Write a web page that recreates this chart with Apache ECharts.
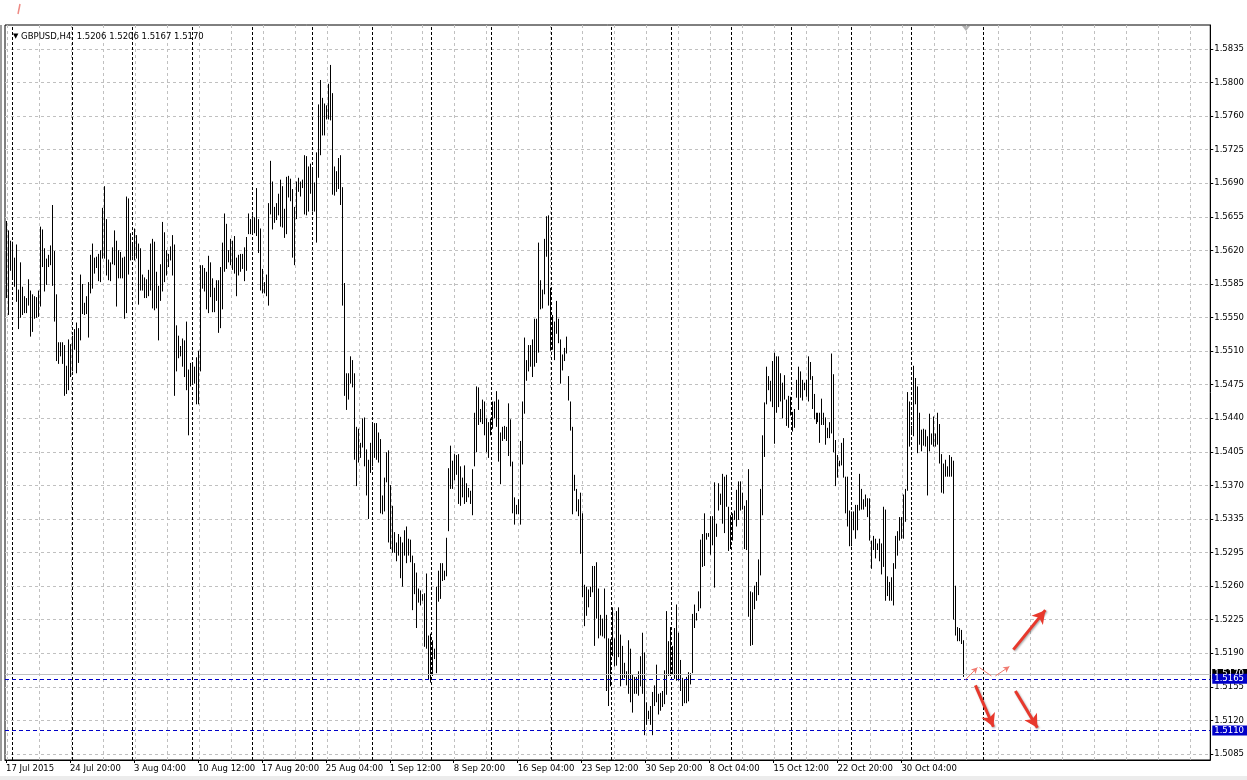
<!DOCTYPE html>
<html>
<head>
<meta charset="utf-8">
<title>GBPUSD,H4</title>
<script src="https://cdn.jsdelivr.net/npm/echarts@6/dist/echarts.min.js"></script>
<style>
  html, body { margin: 0; padding: 0; background: #fff; }
  #chart { width: 1247px; height: 780px; }
</style>
</head>
<body>
<div id="chart"></div>
<script>
// header of the MT4 window
const headerText = 'GBPUSD,H4  1.5206 1.5206 1.5167 1.5170';

// H4 bars, 17 Jul 2015 12:00 .. 6 Nov 2015 08:00 (high / low)
const highs = [
  1.5652,1.5642,1.5631,1.5630,1.5613,1.5627,1.5579,1.5608,1.5582,1.5572,
  1.5570,1.5590,1.5578,1.5574,1.5572,1.5571,1.5578,1.5646,1.5643,1.5623,
  1.5612,1.5616,1.5626,1.5669,1.5620,1.5574,1.5523,1.5523,1.5523,1.5520,
  1.5498,1.5526,1.5521,1.5530,1.5537,1.5544,1.5538,1.5595,1.5585,1.5565,
  1.5572,1.5587,1.5616,1.5628,1.5613,1.5614,1.5617,1.5621,1.5666,1.5689,
  1.5654,1.5611,1.5608,1.5624,1.5642,1.5631,1.5621,1.5619,1.5613,1.5614,
  1.5678,1.5676,1.5639,1.5628,1.5644,1.5637,1.5628,1.5623,1.5595,1.5592,
  1.5590,1.5600,1.5628,1.5633,1.5630,1.5598,1.5583,1.5606,1.5651,1.5640,
  1.5621,1.5617,1.5625,1.5637,1.5627,1.5541,1.5530,1.5519,1.5527,1.5525,
  1.5545,1.5494,1.5501,1.5499,1.5497,1.5507,1.5514,1.5605,1.5605,1.5602,
  1.5598,1.5615,1.5608,1.5591,1.5581,1.5589,1.5589,1.5603,1.5629,1.5660,
  1.5649,1.5621,1.5633,1.5631,1.5636,1.5613,1.5616,1.5617,1.5617,1.5624,
  1.5635,1.5660,1.5654,1.5658,1.5656,1.5687,1.5654,1.5644,1.5601,1.5587,
  1.5595,1.5671,1.5716,1.5694,1.5667,1.5671,1.5681,1.5696,1.5689,1.5665,
  1.5699,1.5700,1.5697,1.5686,1.5667,1.5694,1.5698,1.5694,1.5696,1.5722,
  1.5721,1.5710,1.5713,1.5708,1.5693,1.5725,1.5776,1.5802,1.5783,1.5777,
  1.5775,1.5798,1.5818,1.5788,1.5710,1.5705,1.5719,1.5722,1.5688,1.5586,
  1.5490,1.5490,1.5508,1.5504,1.5490,1.5433,1.5431,1.5416,1.5442,1.5443,
  1.5409,1.5398,1.5416,1.5435,1.5437,1.5437,1.5427,1.5420,1.5360,1.5379,
  1.5406,1.5408,1.5371,1.5349,1.5321,1.5310,1.5319,1.5316,1.5310,1.5323,
  1.5327,1.5314,1.5313,1.5296,1.5288,1.5278,1.5261,1.5259,1.5255,1.5256,
  1.5277,1.5211,1.5213,1.5206,1.5197,1.5263,1.5280,1.5288,1.5288,1.5280,
  1.5315,1.5389,1.5413,1.5397,1.5404,1.5403,1.5404,1.5391,1.5379,1.5392,
  1.5373,1.5368,1.5365,1.5388,1.5448,1.5476,1.5475,1.5452,1.5462,1.5460,
  1.5442,1.5438,1.5442,1.5460,1.5460,1.5471,1.5462,1.5427,1.5433,1.5434,
  1.5433,1.5458,1.5441,1.5396,1.5358,1.5350,1.5356,1.5418,1.5460,1.5528,
  1.5504,1.5520,1.5520,1.5526,1.5548,1.5548,1.5629,1.5589,1.5579,1.5633,
  1.5657,1.5658,1.5581,1.5552,1.5545,1.5567,1.5548,1.5526,1.5510,1.5517,
  1.5529,1.5487,1.5460,1.5433,1.5382,1.5367,1.5356,1.5363,1.5341,1.5265,
  1.5263,1.5260,1.5263,1.5285,1.5285,1.5289,1.5261,1.5233,1.5229,1.5261,
  1.5233,1.5208,1.5207,1.5241,1.5208,1.5237,1.5241,1.5212,1.5200,1.5182,
  1.5173,1.5206,1.5197,1.5169,1.5167,1.5167,1.5173,1.5189,1.5214,1.5193,
  1.5140,1.5131,1.5136,1.5151,1.5158,1.5180,1.5149,1.5150,1.5152,1.5174,
  1.5237,1.5205,1.5220,1.5200,1.5219,1.5244,1.5214,1.5185,1.5166,1.5164,
  1.5167,1.5172,1.5171,1.5234,1.5244,1.5235,1.5258,1.5313,1.5319,1.5341,
  1.5320,1.5320,1.5338,1.5338,1.5374,1.5330,1.5373,1.5362,1.5383,1.5380,
  1.5382,1.5348,1.5339,1.5341,1.5344,1.5366,1.5375,1.5375,1.5363,1.5349,
  1.5355,1.5388,1.5258,1.5257,1.5264,1.5268,1.5292,1.5367,1.5424,1.5459,
  1.5497,1.5487,1.5482,1.5503,1.5512,1.5508,1.5508,1.5490,1.5480,1.5488,
  1.5462,1.5466,1.5465,1.5449,1.5452,1.5483,1.5497,1.5492,1.5483,1.5480,
  1.5483,1.5508,1.5502,1.5487,1.5468,1.5448,1.5448,1.5448,1.5463,1.5448,
  1.5443,1.5432,1.5438,1.5511,1.5489,1.5419,1.5403,1.5397,1.5416,1.5421,
  1.5380,1.5380,1.5344,1.5343,1.5343,1.5350,1.5350,1.5383,1.5367,1.5356,
  1.5361,1.5357,1.5357,1.5312,1.5317,1.5314,1.5309,1.5314,1.5309,1.5348,
  1.5345,1.5274,1.5268,1.5273,1.5288,1.5317,1.5322,1.5337,1.5337,1.5361,
  1.5367,1.5470,1.5460,1.5434,1.5498,1.5485,1.5476,1.5448,1.5430,1.5431,
  1.5430,1.5423,1.5447,1.5426,1.5444,1.5426,1.5448,1.5436,1.5404,1.5394,
  1.5398,1.5391,1.5403,1.5401,1.5397,1.5264,1.5220,1.5219,1.5217,1.5206
];
const lows = [
  1.5570,1.5552,1.5599,1.5591,1.5582,1.5566,1.5537,1.5549,1.5552,1.5554,
  1.5554,1.5562,1.5529,1.5534,1.5548,1.5549,1.5550,1.5561,1.5603,1.5577,
  1.5584,1.5603,1.5605,1.5583,1.5545,1.5503,1.5500,1.5508,1.5500,1.5466,
  1.5468,1.5472,1.5486,1.5492,1.5515,1.5490,1.5501,1.5525,1.5553,1.5552,
  1.5553,1.5528,1.5575,1.5580,1.5596,1.5602,1.5588,1.5587,1.5612,1.5612,
  1.5594,1.5589,1.5588,1.5606,1.5605,1.5561,1.5591,1.5591,1.5591,1.5548,
  1.5554,1.5595,1.5610,1.5614,1.5610,1.5612,1.5563,1.5578,1.5578,1.5570,
  1.5570,1.5572,1.5578,1.5559,1.5557,1.5559,1.5525,1.5567,1.5577,1.5587,
  1.5594,1.5603,1.5610,1.5594,1.5466,1.5492,1.5506,1.5508,1.5497,1.5486,
  1.5472,1.5424,1.5476,1.5478,1.5479,1.5457,1.5457,1.5492,1.5580,1.5577,
  1.5558,1.5554,1.5571,1.5555,1.5555,1.5567,1.5533,1.5538,1.5558,1.5598,
  1.5601,1.5608,1.5605,1.5600,1.5596,1.5572,1.5594,1.5598,1.5601,1.5588,
  1.5599,1.5638,1.5638,1.5640,1.5639,1.5636,1.5618,1.5578,1.5575,1.5575,
  1.5572,1.5562,1.5659,1.5643,1.5650,1.5653,1.5658,1.5646,1.5645,1.5634,
  1.5638,1.5677,1.5673,1.5613,1.5605,1.5654,1.5683,1.5678,1.5687,1.5659,
  1.5658,1.5662,1.5681,1.5662,1.5662,1.5629,1.5698,1.5722,1.5743,1.5743,
  1.5760,1.5760,1.5759,1.5680,1.5679,1.5683,1.5686,1.5669,1.5562,1.5466,
  1.5451,1.5462,1.5479,1.5475,1.5398,1.5370,1.5395,1.5400,1.5411,1.5391,
  1.5360,1.5335,1.5384,1.5391,1.5400,1.5398,1.5395,1.5341,1.5340,1.5343,
  1.5374,1.5310,1.5303,1.5299,1.5299,1.5290,1.5296,1.5272,1.5263,1.5296,
  1.5288,1.5296,1.5289,1.5238,1.5255,1.5219,1.5246,1.5243,1.5248,1.5199,
  1.5197,1.5164,1.5161,1.5168,1.5186,1.5171,1.5247,1.5250,1.5269,1.5270,
  1.5274,1.5322,1.5367,1.5367,1.5376,1.5382,1.5351,1.5349,1.5358,1.5351,
  1.5353,1.5358,1.5351,1.5339,1.5391,1.5406,1.5435,1.5438,1.5436,1.5424,
  1.5406,1.5400,1.5424,1.5431,1.5442,1.5433,1.5396,1.5372,1.5418,1.5420,
  1.5418,1.5402,1.5391,1.5341,1.5329,1.5340,1.5340,1.5329,1.5393,1.5447,
  1.5482,1.5492,1.5497,1.5486,1.5497,1.5501,1.5512,1.5558,1.5559,1.5574,
  1.5614,1.5562,1.5514,1.5515,1.5504,1.5532,1.5522,1.5479,1.5493,1.5503,
  1.5511,1.5461,1.5429,1.5340,1.5365,1.5343,1.5338,1.5298,1.5252,1.5221,
  1.5232,1.5241,1.5252,1.5257,1.5200,1.5229,1.5208,1.5211,1.5210,1.5208,
  1.5152,1.5136,1.5157,1.5189,1.5178,1.5179,1.5188,1.5157,1.5164,1.5166,
  1.5158,1.5149,1.5140,1.5129,1.5149,1.5149,1.5147,1.5157,1.5149,1.5105,
  1.5116,1.5122,1.5116,1.5105,1.5136,1.5140,1.5127,1.5131,1.5135,1.5138,
  1.5148,1.5168,1.5168,1.5170,1.5165,1.5163,1.5163,1.5152,1.5136,1.5139,
  1.5139,1.5141,1.5159,1.5171,1.5219,1.5227,1.5237,1.5240,1.5284,1.5285,
  1.5313,1.5316,1.5297,1.5307,1.5262,1.5316,1.5344,1.5350,1.5330,1.5320,
  1.5348,1.5301,1.5303,1.5312,1.5334,1.5327,1.5334,1.5344,1.5345,1.5303,
  1.5302,1.5231,1.5200,1.5201,1.5239,1.5248,1.5254,1.5275,1.5339,1.5401,
  1.5457,1.5472,1.5460,1.5454,1.5415,1.5448,1.5454,1.5460,1.5442,1.5462,
  1.5434,1.5432,1.5445,1.5428,1.5432,1.5464,1.5451,1.5464,1.5461,1.5472,
  1.5465,1.5460,1.5483,1.5452,1.5441,1.5436,1.5438,1.5416,1.5435,1.5435,
  1.5414,1.5421,1.5421,1.5426,1.5406,1.5370,1.5379,1.5391,1.5392,1.5379,
  1.5341,1.5327,1.5306,1.5306,1.5323,1.5314,1.5323,1.5344,1.5345,1.5345,
  1.5348,1.5337,1.5312,1.5282,1.5302,1.5293,1.5302,1.5290,1.5276,1.5284,
  1.5248,1.5253,1.5248,1.5248,1.5243,1.5282,1.5296,1.5312,1.5314,1.5314,
  1.5332,1.5365,1.5412,1.5426,1.5423,1.5457,1.5405,1.5414,1.5407,1.5413,
  1.5412,1.5360,1.5407,1.5414,1.5412,1.5412,1.5414,1.5394,1.5363,1.5362,
  1.5380,1.5380,1.5380,1.5380,1.5228,1.5211,1.5205,1.5205,1.5202,1.5167
];

// bar slots on the time axis (the chart is shifted, empty slots on the right)
const slotCount = 603;
const xLabelStep = 32;
const xLabels = ['17 Jul 2015', '24 Jul 20:00', '3 Aug 04:00', '10 Aug 12:00', '17 Aug 20:00',
  '25 Aug 04:00', '1 Sep 12:00', '8 Sep 20:00', '16 Sep 04:00', '23 Sep 12:00',
  '30 Sep 20:00', '8 Oct 04:00', '15 Oct 12:00', '22 Oct 20:00', '30 Oct 04:00'];
const gridStep = 16;
// weekly period separators (Monday 00:00 bars)
const weekStarts = [3, 33, 63, 93, 123, 153, 183, 213, 243, 273, 303, 333, 363, 393, 423, 453, 489];

// price scale
const yMin = 1.50786, yMax = 1.58605;
const yLabels = ['1.5085', '1.5120', '1.5155', '1.5190', '1.5225', '1.5260', '1.5295', '1.5335',
  '1.5370', '1.5405', '1.5440', '1.5475', '1.5510', '1.5550', '1.5585', '1.5620', '1.5655',
  '1.5690', '1.5725', '1.5760', '1.5800', '1.5835'];
const yFirst = 1.5085, yLast = 1.5835;
const yStep = (yLast - yFirst) / (yLabels.length - 1);
const yTicks = yLabels.map((_, k) => yFirst + k * yStep);

// horizontal levels
const bidPrice = 1.5170;
const blueLevels = [1.5165, 1.5110];

// hand drawn arrows: [slot, price] -> [slot, price]
const bigArrows = [
  [[504, 1.5196], [520, 1.5238]],
  [[485, 1.5158], [494, 1.5114]],
  [[505, 1.5152], [516, 1.5113]]
];
const smallArrows = [
  [[480, 1.5164], [486, 1.5177], true],
  [[487, 1.5177], [493, 1.5168], false],
  [[495, 1.5168], [502, 1.5178], true]
];

const slots = Array.from({ length: slotCount }, (_, i) => String(i));
const barData = highs.map((h, i) => [i, lows[i], h]);

const font = 'DejaVu Sans';
const fontSize = 8.5;

function renderBar(params, api) {
  const top = api.coord([api.value(0), api.value(2)]);
  const bottom = api.coord([api.value(0), api.value(1)]);
  const x = Math.round(top[0]) + 0.5;
  return {
    type: 'line',
    shape: { x1: x, y1: top[1], x2: x, y2: bottom[1] },
    style: { stroke: '#000', lineWidth: 1 }
  };
}

function levelLine(price, lineStyle, bg) {
  return {
    yAxis: price,
    lineStyle: lineStyle,
    label: {
      show: true, position: 'end', distance: 2,
      formatter: price.toFixed(4),
      color: '#fff', backgroundColor: bg,
      fontFamily: font, fontSize: fontSize, lineHeight: 10,
      padding: [0, 4, 0, 2]
    }
  };
}

const chart = echarts.init(document.getElementById('chart'));

const option = {
  animation: false,
  backgroundColor: '#fff',
  title: {
    text: '{tri|▼} ' + headerText,
    left: 8, top: 27,
    textStyle: {
      fontFamily: font, fontSize: fontSize, fontWeight: 'normal', color: '#000',
      rich: { tri: { fontSize: 7, color: '#000', fontFamily: font } }
    }
  },
  grid: {
    left: 5, right: 36, top: 25, bottom: 20,
    show: true, borderColor: '#000', borderWidth: 1, backgroundColor: '#fff'
  },
  xAxis: {
    type: 'category',
    data: slots,
    boundaryGap: true,
    axisLine: { show: true, lineStyle: { color: '#000' } },
    axisTick: {
      show: true, alignWithLabel: true, length: 3,
      interval: (i) => i % xLabelStep === 0 && i / xLabelStep < xLabels.length,
      lineStyle: { color: '#000' }
    },
    axisLabel: {
      interval: (i) => i % xLabelStep === 0 && i / xLabelStep < xLabels.length,
      formatter: (v, i) => xLabels[Math.round(Number(v) / xLabelStep)] || '',
      align: 'left', margin: 4,
      color: '#000', fontFamily: font, fontSize: fontSize
    },
    splitLine: {
      show: true,
      interval: (i) => i % gridStep === 1,
      lineStyle: { color: '#c0c0c0', type: [3, 3], width: 1 }
    }
  },
  yAxis: {
    type: 'value',
    position: 'right',
    min: yMin, max: yMax,
    axisLine: { show: true, lineStyle: { color: '#000' } },
    axisTick: { show: true, length: 3, customValues: yTicks, lineStyle: { color: '#000' } },
    axisLabel: {
      customValues: yTicks,
      formatter: (v) => yLabels[Math.round((v - yFirst) / yStep)],
      margin: 4, color: '#000', fontFamily: font, fontSize: fontSize
    },
    splitLine: { show: true, lineStyle: { color: '#c0c0c0', type: [3, 3], width: 1 } }
  },
  series: [
    {
      name: 'separators',
      type: 'line',
      data: [],
      silent: true,
      z: 1,
      markLine: {
        silent: true, symbol: 'none', animation: false,
        label: { show: false },
        lineStyle: { color: '#000', type: [3, 2], width: 1 },
        data: weekStarts.map(i => ({ xAxis: String(i) }))
      }
    },
    {
      name: 'GBPUSD,H4',
      type: 'custom',
      renderItem: renderBar,
      data: barData,
      encode: { x: 0, y: [1, 2] },
      z: 3,
      clip: false
    },
    {
      name: 'levels',
      type: 'line',
      data: [],
      silent: true,
      z: 4,
      markLine: {
        silent: true, symbol: 'none', animation: false,
        precision: 5,
        data: [
          levelLine(bidPrice, { color: '#c0c0c0', type: 'solid', width: 1 }, '#000'),
          levelLine(blueLevels[0], { color: '#0000c8', type: [4, 3], width: 1 }, '#0000c8'),
          levelLine(blueLevels[1], { color: '#0000c8', type: [4, 3], width: 1 }, '#0000c8')
        ]
      }
    },
    {
      name: 'arrows',
      type: 'line',
      data: [],
      silent: true,
      z: 5,
      markLine: {
        silent: true, animation: false,
        precision: 5,
        label: { show: false },
        data: bigArrows.map(a => [
          { coord: [String(a[0][0]), a[0][1]], symbol: 'none',
            lineStyle: { color: '#e8382c', width: 3, type: 'solid',
              shadowColor: 'rgba(0,0,0,0.35)', shadowBlur: 2, shadowOffsetX: 1, shadowOffsetY: 1 } },
          { coord: [String(a[1][0]), a[1][1]], symbol: 'arrow', symbolSize: [11, 13] }
        ]).concat(smallArrows.map(a => [
          { coord: [String(a[0][0]), a[0][1]], symbol: 'none',
            lineStyle: { color: '#f07a70', width: 1, type: 'solid' } },
          { coord: [String(a[1][0]), a[1][1]], symbol: a[2] ? 'arrow' : 'none', symbolSize: [5, 6] }
        ]))
      }
    }
  ],
  graphic: [
    { type: 'rect', shape: { x: 0, y: 25, width: 2, height: 736 }, style: { fill: '#9c9c9c' }, silent: true },
    { type: 'rect', shape: { x: 0, y: 776, width: 1247, height: 4 }, style: { fill: '#ececec' }, silent: true },
    { type: 'line', shape: { x1: 18, y1: 14, x2: 20, y2: 4 }, style: { stroke: '#ee8a84', lineWidth: 1.5 }, silent: true },
    { type: 'polygon', shape: { points: [[962, 26], [970, 26], [966, 31]] }, style: { fill: '#b4b4b4' }, silent: true }
  ]
};

chart.setOption(option);
</script>
</body>
</html>
